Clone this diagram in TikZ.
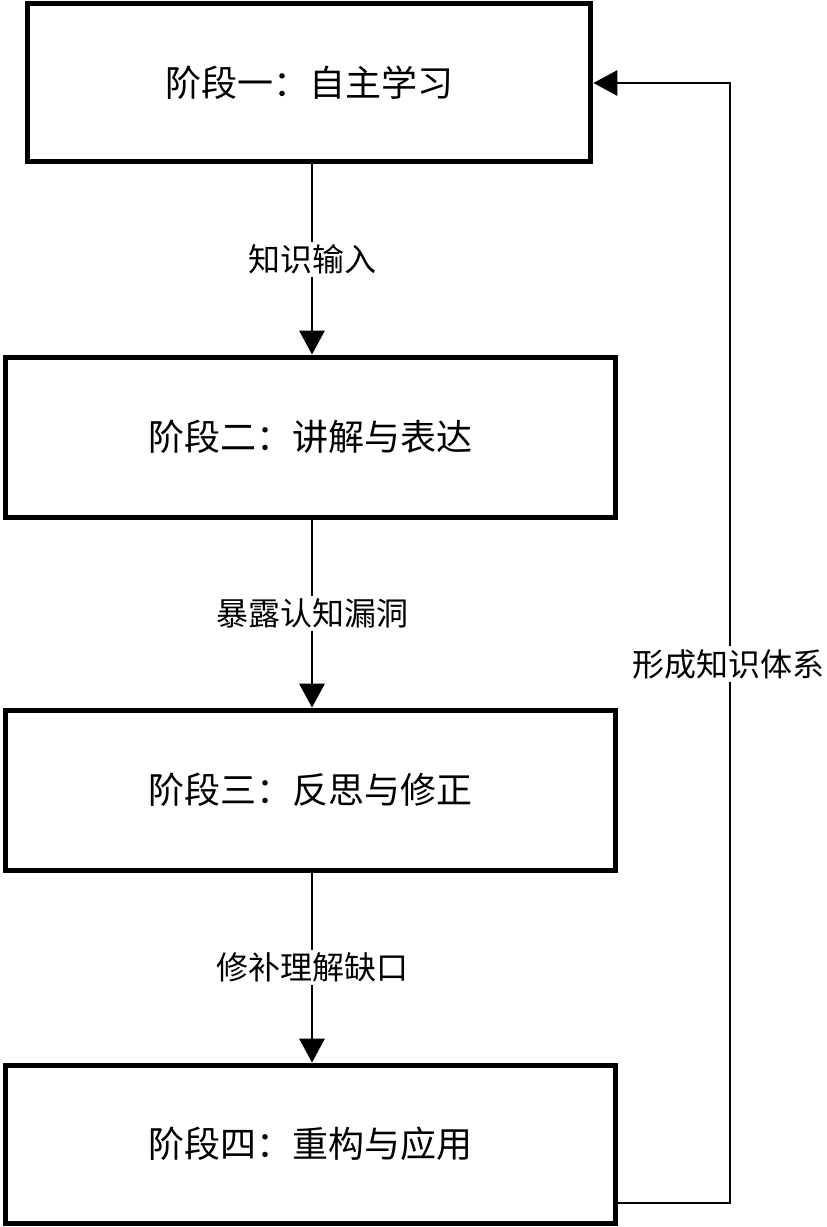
\documentclass[tikz,border=0pt]{standalone}
\usepackage{fontspec}
\setmainfont{Noto Sans CJK SC}
\usetikzlibrary{arrows.meta}
\begin{document}
\begin{tikzpicture}[x=0.75pt,y=-0.75pt,
  stagebox/.style={draw=black,line width=3.75pt,fill=white,inner sep=0pt,font=\fontsize{27}{32}\selectfont},
  conn/.style={draw=black,line width=1.9pt,-{Triangle[length=18pt,width=19pt]}},
  lbl/.style={fill=white,inner sep=2pt,font=\fontsize{24}{28}\selectfont}]
\useasboundingbox (0,0) rectangle (827,1227);
\node[stagebox,minimum width=422.6pt,minimum height=118.5pt] (b1) at (309.25,83) {阶段一：自主学习};
\node[stagebox,minimum width=457.5pt,minimum height=120pt] (b2) at (310,437) {阶段二：讲解与表达};
\node[stagebox,minimum width=457.5pt,minimum height=120pt] (b3) at (310,790) {阶段三：反思与修正};
\node[stagebox,minimum width=457.5pt,minimum height=118.5pt] (b4) at (310,1144) {阶段四：重构与应用};
\draw[conn] (b1.south -| 312,0) -- node[lbl] (l1) {知识输入} (b2.north -| 312,0);
\draw[conn] (b2.south -| 312,0) -- node[lbl] (l2) {暴露认知漏洞} (b3.north -| 312,0);
\draw[conn] (b3.south -| 312,0) -- node[lbl] (l3) {修补理解缺口} (b4.north -| 312,0);
\coordinate (lp) at (730,1203);
\draw[conn] (b4.east |- lp) -- (lp) -- (lp |- b1.east) -- (b1.east);
\node[lbl] (l4) at (728,664) {形成知识体系};
\end{tikzpicture}
\end{document}
